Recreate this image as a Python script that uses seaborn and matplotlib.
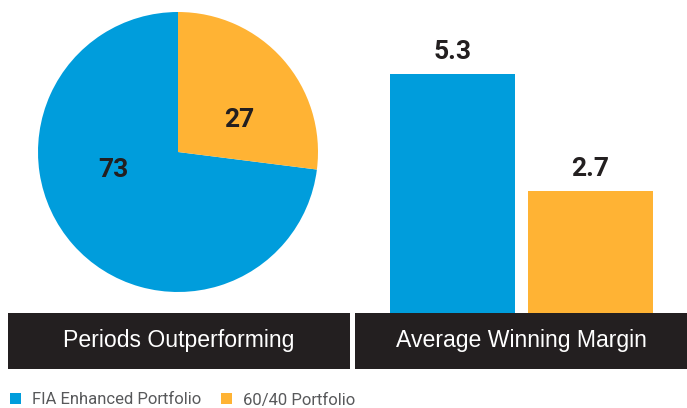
import matplotlib
matplotlib.use("Agg")
import matplotlib.pyplot as plt
from matplotlib.patches import Patch
import seaborn as sns
import pandas as pd

# ---- data ----
series = ["FIA Enhanced Portfolio", "60/40 Portfolio"]
periods_outperforming = [73, 27]
avg_winning_margin = [5.3, 2.7]
panel_titles = ["Periods Outperforming", "Average Winning Margin"]
colors = ["#009ddc", "#ffb334"]
dark = "#231f20"

sns.set_theme(style="white")
plt.rcParams["font.family"] = ["Roboto", "DejaVu Sans"]

W, H = 687, 408
fig = plt.figure(figsize=(W / 100, H / 100), dpi=100)

def frac(x0, y0, x1, y1):
    return [x0 / W, 1 - y1 / H, (x1 - x0) / W, (y1 - y0) / H]

# ---- pie ----
axp = fig.add_axes(frac(38, 12, 318, 292))
axp.pie(periods_outperforming, colors=colors, startangle=90, counterclock=True,
        radius=1, wedgeprops=dict(linewidth=0))
axp.set_xlim(-1, 1)
axp.set_ylim(-1, 1)
axp.set_aspect("equal")
axp.axis("off")
axp.text(-0.46, -0.13, str(periods_outperforming[0]), ha="center", va="center",
         fontsize=19, fontweight="bold", color=dark)
axp.text(0.44, 0.23, str(periods_outperforming[1]), ha="center", va="center",
         fontsize=19, fontweight="bold", color=dark)

# ---- bars ----
axb = fig.add_axes(frac(355, 13, 687, 313))
df = pd.DataFrame({"series": series, "value": avg_winning_margin})
sns.barplot(data=df, x="series", y="value", hue="series", palette=colors,
            width=0.906, legend=False, ax=axb, linewidth=0, saturation=1)
ppu = 239 / avg_winning_margin[0]
axb.set_ylim(0, 300 / ppu)
axb.set_xlim((355 - 452.5) / 138, (687 - 452.5) / 138)
axb.axis("off")
for i, v in enumerate(avg_winning_margin):
    axb.text(i, v + 0.22, f"{v:.1f}", ha="center", va="bottom",
             fontsize=19, fontweight="bold", color=dark)

# ---- dark title bands ----
for (x0, x1), title in zip([(8, 350), (355, 687)], panel_titles):
    axt = fig.add_axes(frac(x0, 313, x1, 369))
    axt.set_facecolor(dark)
    axt.set_xticks([])
    axt.set_yticks([])
    for s in axt.spines.values():
        s.set_visible(False)
    axt.text(0.5, 0.5, title, ha="center", va="center", color="white",
             fontsize=16.6, family=["Liberation Sans", "DejaVu Sans"],
             transform=axt.transAxes)

# ---- legend ----
handles = [Patch(facecolor=c, edgecolor="none", label=s) for c, s in zip(colors, series)]
fig.legend(handles=handles, loc="center left", bbox_to_anchor=(0.005, 1 - 400 / H), ncol=2,
           frameon=False, fontsize=12, handlelength=0.66, handleheight=0.66,
           handletextpad=0.66, columnspacing=1.2, borderaxespad=0, labelcolor="#58595b")

fig.savefig("out.png", dpi=100)
